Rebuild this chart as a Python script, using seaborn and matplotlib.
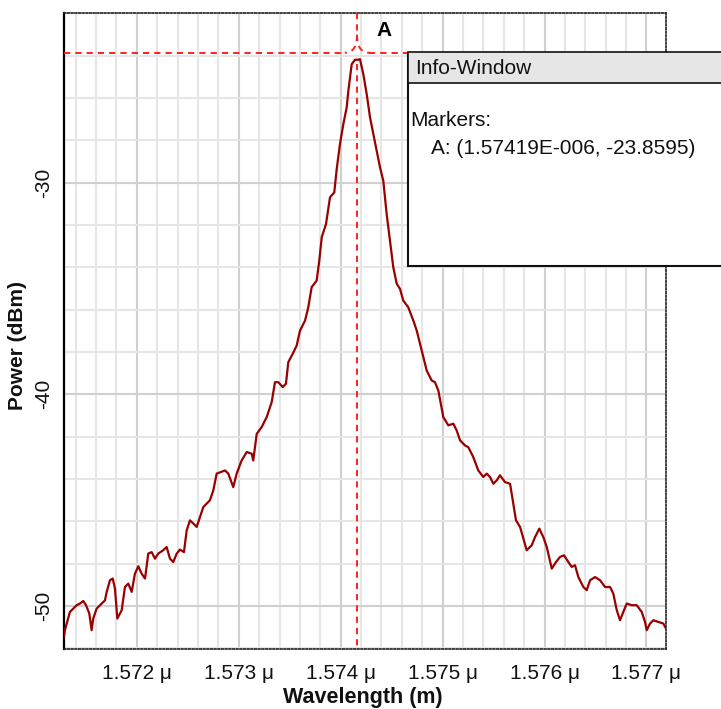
import numpy as np
import matplotlib
matplotlib.use("Agg")
import matplotlib.pyplot as plt
import seaborn as sns
from matplotlib.ticker import MultipleLocator, FixedLocator
from matplotlib.patches import Rectangle, PathPatch
from matplotlib.path import Path

# ---- data ----
wavelength_um = [
    1.571285, 1.571294, 1.571343, 1.571376, 1.571409, 1.571442, 1.571474, 1.571501, 1.571533, 1.571556,
    1.571572, 1.571605, 1.571655, 1.571687, 1.571704, 1.571736, 1.571763, 1.571785, 1.571808, 1.571851,
    1.571883, 1.571916, 1.571949, 1.571981, 1.572014, 1.572047, 1.572080, 1.572112, 1.572145, 1.572178,
    1.572210, 1.572259, 1.572292, 1.572325, 1.572357, 1.572391, 1.572423, 1.572462, 1.572489, 1.572521,
    1.572554, 1.572587, 1.572619, 1.572652, 1.572685, 1.572717, 1.572750, 1.572783, 1.572865, 1.572897,
    1.572946, 1.572979, 1.573028, 1.573078, 1.573127, 1.573142, 1.573176, 1.573225, 1.573274, 1.573323,
    1.573355, 1.573388, 1.573431, 1.573463, 1.573486, 1.573529, 1.573568, 1.573601, 1.573650, 1.573682,
    1.573715, 1.573764, 1.573790, 1.573814, 1.573856, 1.573895, 1.573937, 1.573961, 1.573993, 1.574026,
    1.574059, 1.574075, 1.574091, 1.574108, 1.574140, 1.574173, 1.574189, 1.574222, 1.574255, 1.574288,
    1.574320, 1.574353, 1.574386, 1.574418, 1.574451, 1.574484, 1.574516, 1.574550, 1.574582, 1.574614,
    1.574663, 1.574713, 1.574746, 1.574795, 1.574844, 1.574893, 1.574925, 1.574958, 1.575007, 1.575056,
    1.575105, 1.575138, 1.575171, 1.575220, 1.575252, 1.575301, 1.575350, 1.575399, 1.575433, 1.575465,
    1.575498, 1.575531, 1.575563, 1.575612, 1.575662, 1.575694, 1.575720, 1.575760, 1.575825, 1.575874,
    1.575907, 1.575949, 1.575988, 1.576022, 1.576071, 1.576113, 1.576152, 1.576191, 1.576234, 1.576267,
    1.576299, 1.576332, 1.576381, 1.576414, 1.576447, 1.576496, 1.576545, 1.576594, 1.576643, 1.576675,
    1.576709, 1.576741, 1.576773, 1.576807, 1.576856, 1.576905, 1.576954, 1.576986, 1.577003, 1.577035,
    1.577068, 1.577117, 1.577166, 1.577192,
]
power_dbm = [
    -51.47, -51.15, -50.29, -50.13, -49.97, -49.89, -49.77, -49.97, -50.36, -51.15,
    -50.60, -50.13, -49.89, -49.74, -49.34, -48.79, -48.71, -49.18, -50.60, -50.21,
    -49.11, -48.95, -49.34, -48.48, -48.13, -48.48, -48.71, -47.53, -47.46, -47.77,
    -47.53, -47.37, -47.22, -47.77, -47.93, -47.53, -47.34, -47.46, -46.43, -45.96,
    -46.11, -46.27, -45.80, -45.33, -45.17, -45.01, -44.54, -43.75, -43.60, -43.75,
    -44.39, -43.75, -43.13, -42.73, -42.81, -43.13, -41.87, -41.55, -41.08, -40.37,
    -39.43, -39.43, -39.66, -39.50, -38.48, -38.09, -37.70, -36.99, -36.52, -35.89,
    -34.94, -34.63, -33.68, -32.58, -31.95, -30.69, -30.46, -29.35, -28.17, -27.23,
    -26.44, -25.66, -25.03, -24.40, -24.19, -24.19, -24.16, -24.87, -25.81, -26.92,
    -27.70, -28.49, -29.28, -29.91, -31.48, -32.74, -34.00, -34.78, -35.02, -35.57,
    -35.89, -36.52, -36.99, -37.93, -38.88, -39.35, -39.43, -39.82, -41.08, -41.47,
    -41.39, -41.71, -42.18, -42.42, -42.50, -42.97, -43.60, -43.91, -43.75, -43.91,
    -44.23, -44.07, -43.83, -44.15, -44.23, -45.17, -45.96, -46.27, -47.37, -47.14,
    -46.75, -46.35, -46.75, -47.22, -48.24, -47.93, -47.69, -47.61, -47.93, -48.16,
    -48.08, -48.64, -49.11, -49.26, -48.79, -48.64, -48.79, -49.11, -49.11, -49.42,
    -50.21, -50.68, -50.29, -49.89, -49.97, -49.97, -50.29, -50.76, -51.15, -50.84,
    -50.68, -50.76, -50.84, -51.07,
]
x_ticks_um = [1.572, 1.573, 1.574, 1.575, 1.576, 1.577]
x_tick_labels = ["1.572 \u03bc", "1.573 \u03bc", "1.574 \u03bc", "1.575 \u03bc", "1.576 \u03bc", "1.577 \u03bc"]
y_ticks = [-50, -40, -30]
y_tick_labels = ["-50", "-40", "-30"]
marker_name = "A"
marker_x = 1.57416
marker_y = -23.8595
info_title = "Info-Window"
info_lines = ["Markers:", "A: (1.57419E-006, -23.8595)"]

# ---- style ----
sns.set_style("white")
plt.rcParams["font.family"] = ["Liberation Sans", "DejaVu Sans"]

W, H = 721, 709
fig = plt.figure(figsize=(W / 100, H / 100), dpi=100)
ax = fig.add_axes([64 / W, (H - 649) / H, (666 - 64) / W, (649 - 13) / H])

xmin, xmax = 1.571285, 1.577192
ymin, ymax = -52.04, -21.98

sns.lineplot(x=wavelength_um, y=power_dbm, ax=ax, color="#990000", lw=1.6,
             estimator=None, sort=False, zorder=3)

ax.set_xlim(xmin, xmax)
ax.set_ylim(ymin, ymax)

ax.xaxis.set_major_locator(FixedLocator(x_ticks_um))
ax.set_xticklabels(x_tick_labels)
ax.xaxis.set_minor_locator(MultipleLocator(0.0002))
ax.yaxis.set_major_locator(FixedLocator(y_ticks))
ax.set_yticklabels(y_tick_labels, rotation=90, va="center")
ax.yaxis.set_minor_locator(MultipleLocator(2))

ax.grid(which="major", color="#d0d0d0", lw=1.5, zorder=0)
ax.grid(which="minor", color="#e6e6e6", lw=1.5, zorder=0)
ax.set_axisbelow(True)

ax.tick_params(axis="x", which="both", direction="inout", length=4, width=1,
               color="black", labelsize=15, pad=9, labelcolor="#111111")
ax.tick_params(axis="y", which="major", direction="inout", length=11.5, width=1.5,
               color="black", labelsize=15, pad=2, labelcolor="#111111")
ax.tick_params(axis="y", which="minor", direction="inout", length=6, width=1.5, color="black")

ax.spines["left"].set_color("black")
ax.spines["left"].set_linewidth(1.6)
for s in ("top", "right", "bottom"):
    ax.spines[s].set_color("#222222")
    ax.spines[s].set_linewidth(1.2)
    ax.spines[s].set_linestyle((0, (1, 1.2)))

ax.set_xlabel("")
ax.set_ylabel("")

# ---- marker crosshair ----
red = "#ff2020"
dash = (0, (3.2, 2.6))
lw_m = 1.4
gx_l, gx_r = 0.00012, 0.00012
gy_top, gy_bot = 0.85, 0.55
ax.plot([xmin, marker_x - gx_l], [marker_y, marker_y], color=red, ls=dash, lw=lw_m, zorder=4)
ax.plot([marker_x + gx_r, xmax], [marker_y, marker_y], color=red, ls=dash, lw=lw_m, zorder=4)
ax.plot([marker_x, marker_x], [ymax, marker_y + gy_top], color=red, ls=dash, lw=lw_m, zorder=4)
ax.plot([marker_x, marker_x], [marker_y - gy_bot, ymin], color=red, ls=dash, lw=lw_m, zorder=4)
for sgn, g in ((-1, gx_l), (1, gx_r)):
    p = Path([(marker_x, marker_y + gy_top), (marker_x, marker_y), (marker_x + sgn * g, marker_y)],
             [Path.MOVETO, Path.CURVE3, Path.CURVE3])
    ax.add_patch(PathPatch(p, fill=False, edgecolor=red, ls=dash, lw=lw_m, zorder=4))
ax.annotate(marker_name, xy=(marker_x, marker_y), xytext=(19.8, 16.2), textcoords="offset points",
            ha="center", va="center", fontsize=15, fontweight="bold", color="black",
            annotation_clip=False)

# ---- axis labels ----
fig.text(18 / W, 1 - 345 / H, "Power (dBm)", rotation=90, ha="center", va="center",
         fontsize=15, fontweight="bold", color="#111111")
fig.text(363 / W, 1 - 697 / H, "Wavelength (m)", ha="center", va="center",
         fontsize=15.5, fontweight="bold", color="#111111")

# ---- info window ----
bx0, by0, by1 = 408, 52.5, 266
fig.add_artist(Rectangle((bx0 / W, 1 - by1 / H), (W + 10 - bx0) / W, (by1 - by0) / H,
                         transform=fig.transFigure, facecolor="white", edgecolor="#111111",
                         lw=1.5, zorder=10, clip_on=False))
fig.add_artist(Rectangle((bx0 / W, 1 - 83 / H), (W + 10 - bx0) / W, (83 - by0) / H,
                         transform=fig.transFigure, facecolor="#e6e6e6", edgecolor="#111111",
                         lw=1.2, zorder=11, clip_on=False))
fig.text(415 / W, 1 - 69 / H, info_title, ha="left", va="center", fontsize=15,
         color="#111111", zorder=12)
fig.text(410 / W, 1 - 120 / H, info_lines[0], ha="left", va="center", fontsize=15,
         color="#111111", zorder=12)
fig.text(431 / W, 1 - 148 / H, info_lines[1], ha="left", va="center", fontsize=15,
         color="#111111", zorder=12)

fig.savefig("out.png", dpi=100)
